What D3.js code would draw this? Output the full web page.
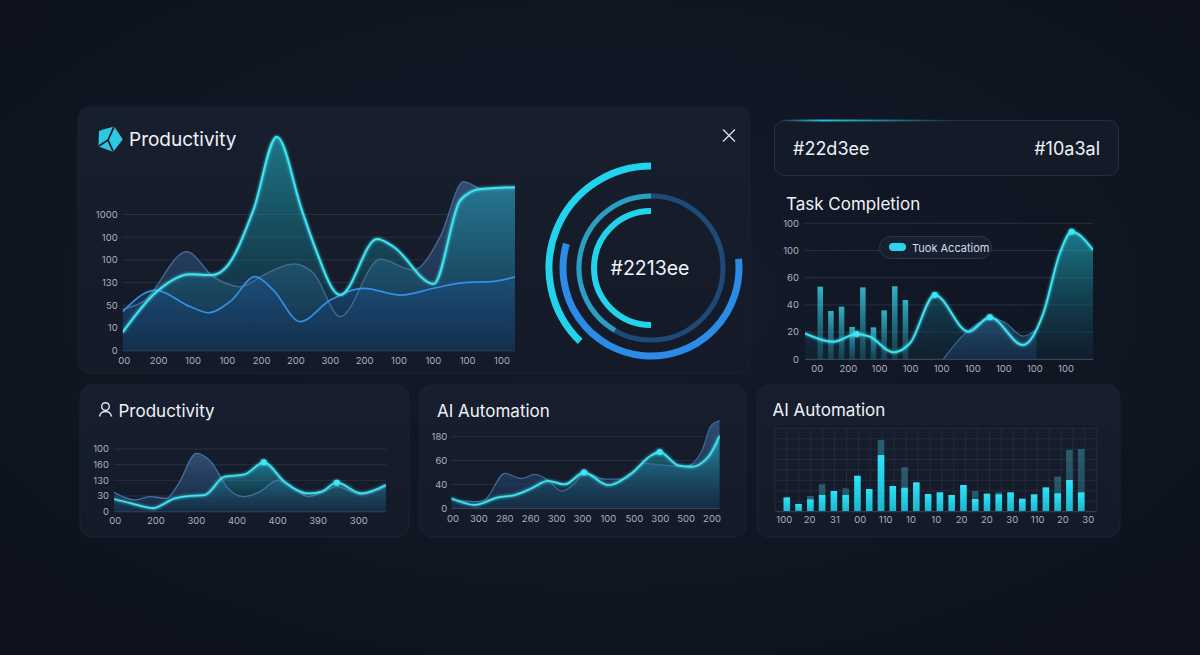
<!DOCTYPE html>
<html><head><meta charset="utf-8">
<script src="https://cdn.jsdelivr.net/npm/d3@7"></script>
<style>
html,body{margin:0;padding:0;background:#0f1420;}
svg{display:block;font-family:Inter,"Noto Sans",sans-serif;}
</style></head><body>
<svg id="c" width="1200" height="655"></svg>
<script>
// ---------- DATA ----------
// Main "Productivity" chart (x = category index, y = tick index units)
const mainXLabels = ["00","200","100","100","200","200","300","200","100","100","100","100"];
const mainYLabels = ["0","10","50","130","100","100","1000"];
const mainCyan = [[-0.05,0.81],[0.94,2.6],[1.92,3.37],[2.55,3.33],[2.98,3.7],[3.76,6.2],[4.44,9.43],[5.17,6.2],[5.51,4.73],[6.29,2.45],[7.36,4.92],[7.84,4.58],[9.01,2.94],[9.79,6.64],[10.37,7.12],[11.39,7.2]];
const mainSlate = [[-0.05,1.82],[0.55,2.16],[1.82,4.36],[2.59,3.26],[3.37,2.82],[4.15,3.41],[4.93,3.82],[5.51,3.41],[6.29,1.5],[7.45,4.03],[8.42,3.55],[9.2,5.02],[9.88,7.44],[10.47,7.11],[11.39,7.2]];
const mainBlue = [[-0.05,1.72],[0.9,2.67],[1.92,1.94],[2.45,1.67],[3.08,2.16],[3.81,3.26],[4.34,2.67],[5.12,1.28],[6.0,2.23],[6.97,2.75],[8.05,2.45],[9.01,2.75],[9.88,3.0],[10.66,3.04],[11.39,3.26]];

// Ring (angles in degrees, 0 = 12 o'clock, clockwise)
const ringArcs = [
  {name:"outer", r:102, start:-136, end:0, color:"#22d3ee", w:7},
  {name:"blue", r:88, start:84, end:286, color:"#2b8be6", w:7},
  {name:"trackMid", r:72, start:0, end:360, color:"#1d4a78", w:5},
  {name:"mid", r:72, start:-150, end:0, color:"#2a9fc0", w:5},
  {name:"inner", r:57, start:180, end:360, color:"#22d3ee", w:6}
];
const ringLabel = "#2213ee";

// Header card
const headerLeft = "#22d3ee";
const headerRight = "#10a3al";

// Task Completion chart
const taskYTicks = [0,20,40,60,80,100];
const taskYLabels = ["0","20","40","60","100","100"];
const taskXLabels = ["00","200","100","100","100","100","100","100","100"];
const taskBars = [53.4,35.5,38.7,23.8,52.9,23.5,36,53.7,43.6];
const taskCurve = [[-0.4,19.1],[0.51,12.9],[1.27,18.6],[1.69,16.6],[2.44,5.1],[2.98,11.8],[3.78,47.3],[4.86,20.3],[5.55,30.9],[6.62,10.5],[7.27,33.8],[7.8,78],[8.18,93.8],[8.87,80.4]];
const taskDotIdx = [2,6,8,12];
const taskSlate = [[4.05,0],[4.8,20],[5.66,30],[6.04,27],[6.62,17],[7.05,22]];
const taskLegend = "Tuok Accatiom";

// Bottom 1: Productivity
const p1XLabels = ["00","200","300","400","400","390","300"];
const p1YLabels = ["0","30","130","160","100"];
const p1Slate = [[-0.03,1.24],[0.48,0.75],[0.85,0.96],[1.26,0.85],[1.54,1.7],[2.0,3.72],[2.36,3.18],[2.78,1.49],[3.15,0.96],[3.56,1.27],[4.01,2.02],[4.4,1.5],[4.75,0.96],[5.07,1.2],[5.46,1.6],[6.06,1.1],[6.67,1.6]];
const p1Cyan = [[-0.03,0.81],[0.39,0.53],[0.93,0.22],[1.46,0.85],[1.79,1.0],[2.2,1.06],[2.69,2.23],[3.19,2.38],[3.66,3.15],[4.17,1.91],[4.75,1.17],[5.07,1.27],[5.46,1.85],[6.06,1.17],[6.67,1.7]];
const p1DotIdx = [8,12];

// Bottom 2: AI Automation (line)
const p2XLabels = ["00","300","280","260","300","300","100","500","300","500","200"];
const p2YLabels = ["0","40","60","180"];
const p2Slate = [[-0.07,0.35],[0.84,0.28],[1.22,0.35],[2.0,1.46],[2.64,1.25],[3.15,1.42],[3.67,1.18],[4.18,0.72],[4.7,1.04],[5.06,1.5],[5.86,1.22],[6.63,1.22],[7.4,1.88],[7.92,1.83],[8.95,1.74],[9.59,2.36],[9.97,3.47],[10.3,3.68]];
const p2Cyan = [[-0.07,0.42],[0.84,0.14],[1.74,0.46],[2.38,0.55],[3.02,0.83],[3.67,1.15],[4.31,1.0],[5.06,1.5],[5.98,0.97],[6.88,1.46],[7.66,2.22],[7.98,2.36],[8.69,1.8],[9.2,1.74],[9.85,2.15],[10.3,3.05]];
const p2DotIdx = [7,11];

// Bottom 3: AI Automation (bars)
const p3Bars = [16.5,8.5,14.1,19.4,24.2,19.4,42.7,26.6,67.7,30.2,28.2,34.7,20.6,22.6,19.4,31.5,14.5,21.0,20.2,22.6,14.9,20.2,28.6,21.4,37.5,22.6];
const p3Faded = [0,0,18.1,32.3,0,27.4,0,0,85.9,0,52.8,0,0,0,0,0,24.2,0,22.6,0,0,0,0,41.5,73.8,75.0];
const p3XLabels = ["100","20","31","00","110","10","10","20","20","30","110","20","30"];

// ---------- DRAW ----------
const svg = d3.select("#c");
const defs = svg.append("defs");
function vGrad(id, stops){
  const g = defs.append("linearGradient").attr("id",id).attr("x1",0).attr("y1",0).attr("x2",0).attr("y2",1);
  stops.forEach(s=>g.append("stop").attr("offset",s[0]).attr("stop-color",s[1]).attr("stop-opacity",s[2]));
}
const bg = defs.append("radialGradient").attr("id","bg").attr("cx","50%").attr("cy","45%").attr("r","75%");
bg.append("stop").attr("offset",0).attr("stop-color","#141b2a");
bg.append("stop").attr("offset",1).attr("stop-color","#0c111b");
vGrad("card",[[0,"#171e2d",1],[1,"#141a27",1]]);
vGrad("mCyan",[[0,"#22c0d4",0.55],[0.55,"#14788c",0.42],[1,"#0f3a55",0.3]]);
vGrad("mSlate",[[0,"#35567e",0.85],[1,"#1b3454",0.6]]);
vGrad("mBlue",[[0,"#1a5288",0.5],[1,"#112f52",0.5]]);
vGrad("tCyan",[[0,"#22c0d4",0.58],[0.6,"#14697e",0.42],[1,"#0f3347",0.28]]);
vGrad("tSlate",[[0,"#2e5a8a",0.6],[1,"#1a3a60",0.5]]);
vGrad("tBar",[[0,"#38cde0",0.85],[1,"#1a8aa0",0.3]]);
vGrad("bBar",[[0,"#2ee3f7",1],[1,"#19b7cf",1]]);
vGrad("bFade",[[0,"#2f7286",0.75],[1,"#2a6275",0.55]]);
const hl = defs.append("linearGradient").attr("id","hl").attr("x1",0).attr("x2",1);
hl.append("stop").attr("offset",0).attr("stop-color","#22d3ee").attr("stop-opacity",0);
hl.append("stop").attr("offset",0.25).attr("stop-color","#22d3ee").attr("stop-opacity",0.9);
hl.append("stop").attr("offset",1).attr("stop-color","#22d3ee").attr("stop-opacity",0);
const glow = defs.append("filter").attr("id","glow").attr("x","-20%").attr("y","-20%").attr("width","140%").attr("height","140%");
glow.append("feGaussianBlur").attr("stdDeviation",1.4).attr("result","b");
const fm = glow.append("feMerge"); fm.append("feMergeNode").attr("in","b"); fm.append("feMergeNode").attr("in","SourceGraphic");

svg.append("rect").attr("width",1200).attr("height",655).attr("fill","url(#bg)");

// cards
[[78,107,672,266],[80,385,329,152],[420,385,326,152],[757,385,363,152]].forEach(c=>{
  svg.append("rect").attr("x",c[0]).attr("y",c[1]).attr("width",c[2]).attr("height",c[3])
    .attr("rx",12).attr("fill","url(#card)").attr("stroke","#1b2333").attr("stroke-width",1);
});

const lbl = "#a9b2c1";
function axisText(g, x, y, t, anchor){
  g.append("text").attr("x",x).attr("y",y).attr("text-anchor",anchor).attr("dy","0.35em")
    .attr("font-size",9.5).attr("fill",lbl).text(t);
}
function title(x,y,t,size){
  svg.append("text").attr("x",x).attr("y",y).attr("font-size",size).attr("font-weight",400)
    .attr("fill","#eef2f7").text(t);
}

// Generic line/area chart drawing
function chart(cfg){
  const g = svg.append("g");
  const x = d3.scaleLinear().domain(cfg.xDomain).range(cfg.xRange);
  const y = d3.scaleLinear().domain(cfg.yDomain).range(cfg.yRange);
  const clipId = cfg.id+"clip";
  defs.append("clipPath").attr("id",clipId).append("rect")
    .attr("x",cfg.plot[0]).attr("y",cfg.top).attr("width",cfg.plot[1]-cfg.plot[0]).attr("height",y(0)-cfg.top+0.5);
  cfg.yTicks.forEach((t,i)=>{
    g.append("line").attr("x1",cfg.plot[0]).attr("x2",cfg.plot[1]).attr("y1",y(t)).attr("y2",y(t))
      .attr("stroke", i===0?"#46526a":"#263044").attr("stroke-width",1);
    axisText(g, cfg.plot[0]-cfg.yPad, y(t), cfg.yLabels[i], "end");
  });
  cfg.xLabels.forEach((t,i)=>axisText(g, x(i), y(0)+cfg.xPad, t, "middle"));
  return {g,x,y,clipId};
}
function areaPath(g,x,y,data,fill,clip){
  g.append("path").datum(data).attr("clip-path","url(#"+clip+")")
    .attr("d", d3.area().x(d=>x(d[0])).y0(y(0)).y1(d=>y(d[1])).curve(d3.curveMonotoneX))
    .attr("fill",fill);
}
function linePath(g,x,y,data,stroke,w,clip,useGlow){
  const p = g.append("path").datum(data).attr("clip-path","url(#"+clip+")")
    .attr("d", d3.line().x(d=>x(d[0])).y(d=>y(d[1])).curve(d3.curveMonotoneX))
    .attr("fill","none").attr("stroke",stroke).attr("stroke-width",w).attr("stroke-linejoin","round");
  if(useGlow) p.attr("filter","url(#glow)");
}
function dots(g,x,y,data,idx){
  idx.forEach(i=>{
    g.append("circle").attr("cx",x(data[i][0])).attr("cy",y(data[i][1])).attr("r",3)
      .attr("fill","#3fe6f5").attr("filter","url(#glow)");
  });
}

// ---- Main chart ----
{
  const yt = d3.range(mainYLabels.length);
  const c = chart({id:"m", xDomain:[0,11], xRange:[124.3,502], yDomain:[0,6], yRange:[350.7,214.5],
    plot:[122.7,515], top:118, yTicks:yt, yLabels:mainYLabels, xLabels:mainXLabels, yPad:5, xPad:9.5});
  areaPath(c.g,c.x,c.y,mainSlate,"url(#mSlate)",c.clipId);
  areaPath(c.g,c.x,c.y,mainCyan,"url(#mCyan)",c.clipId);
  areaPath(c.g,c.x,c.y,mainBlue,"url(#mBlue)",c.clipId);
  linePath(c.g,c.x,c.y,mainSlate,"#46678f",1.4,c.clipId,false);
  linePath(c.g,c.x,c.y,mainBlue,"#358ee3",1.7,c.clipId,false);
  linePath(c.g,c.x,c.y,mainCyan,"#3fe3f2",2,c.clipId,true);
}
// Title + icon
{
  const ig = svg.append("g").attr("transform","translate(109.5,139)");
  const pts = d3.range(5).map(i=>{const a=-Math.PI/2+i*2*Math.PI/5+0.35;return [11.5*Math.cos(a),11.5*Math.sin(a)];});
  ig.append("path").attr("d","M"+pts.map(p=>p.join(",")).join("L")+"Z")
    .attr("fill","#2cc9df").attr("stroke","#2cc9df").attr("stroke-width",3).attr("stroke-linejoin","round");
  const ctr = [-1.5,1];
  [0,2,3].forEach(i=>{
    ig.append("line").attr("x1",ctr[0]).attr("y1",ctr[1]).attr("x2",pts[i][0]*1.1).attr("y2",pts[i][1]*1.1)
      .attr("stroke","#161d2b").attr("stroke-width",1.8);
  });
  title(129,145.5,"Productivity",19);
  svg.append("path").attr("d","M723,129.5L735,141.5M735,129.5L723,141.5").attr("stroke","#d6dde6").attr("stroke-width",1.4);
}

// ---- Ring ----
{
  const rg = svg.append("g").attr("transform","translate(651,268)");
  const rad = d3.scaleLinear().domain([0,360]).range([0,2*Math.PI]);
  ringArcs.forEach(a=>{
    const arc = d3.arc().innerRadius(a.r).outerRadius(a.r).startAngle(rad(a.start)).endAngle(rad(a.end));
    rg.append("path").attr("d",arc()).attr("fill","none").attr("stroke",a.color)
      .attr("stroke-width",a.w).attr("stroke-linecap", a.end-a.start>=360?"butt":"round");
  });
  rg.append("text").attr("x",-1).attr("y",7).attr("text-anchor","middle").attr("font-size",19.5)
    .attr("fill","#f2f5f9").text(ringLabel);
}

// ---- Header card ----
{
  svg.append("rect").attr("x",774.5).attr("y",120.5).attr("width",344).attr("height",55).attr("rx",10)
    .attr("fill","#141b28").attr("stroke","#263043").attr("stroke-width",1);
  svg.append("rect").attr("x",780).attr("y",119.5).attr("width",170).attr("height",2).attr("fill","url(#hl)");
  svg.append("text").attr("x",793).attr("y",155).attr("font-size",18).attr("fill","#eef2f7").text(headerLeft);
  svg.append("text").attr("x",1100).attr("y",155).attr("text-anchor","end").attr("font-size",18).attr("fill","#eef2f7").text(headerRight);
}

// ---- Task Completion ----
{
  title(786,210,"Task Completion",17);
  const c = chart({id:"t", xDomain:[0,8], xRange:[817.3,1066], yDomain:[0,100], yRange:[359.3,223.3],
    plot:[805,1093.3], top:215, yTicks:taskYTicks, yLabels:taskYLabels, xLabels:taskXLabels, yPad:6, xPad:9});
  areaPath(c.g,c.x,c.y,taskCurve,"url(#tCyan)",c.clipId);
  const bx = d3.scaleBand().domain(d3.range(taskBars.length)).range([812.4,913.3]).padding(0.48);
  c.g.selectAll(".tb").data(taskBars).join("rect")
    .attr("x",(d,i)=>bx(i)).attr("width",bx.bandwidth()).attr("y",d=>c.y(d)).attr("height",d=>c.y(0)-c.y(d))
    .attr("fill","url(#tBar)");
  areaPath(c.g,c.x,c.y,taskSlate,"url(#tSlate)",c.clipId);
  linePath(c.g,c.x,c.y,taskSlate,"#3e6a98",1.2,c.clipId,false);
  linePath(c.g,c.x,c.y,taskCurve,"#3fe3f2",1.9,c.clipId,true);
  dots(c.g,c.x,c.y,taskCurve,taskDotIdx);
  svg.append("rect").attr("x",879.5).attr("y",236.5).attr("width",112).attr("height",22).attr("rx",11)
    .attr("fill","#172030").attr("stroke","#2c374a");
  svg.append("rect").attr("x",889).attr("y",243).attr("width",17).attr("height",8).attr("rx",4).attr("fill","#2bd6ea");
  svg.append("text").attr("x",912).attr("y",251.5).attr("font-size",11).attr("fill","#d5dce5").text(taskLegend);
}

// ---- Bottom 1 ----
{
  const ig = svg.append("g").attr("stroke","#e3e8ef").attr("stroke-width",1.4).attr("fill","none");
  ig.append("circle").attr("cx",105.5).attr("cy",406.5).attr("r",3.8);
  ig.append("path").attr("d","M99.5,416.5Q100.5,411.5 105.5,411.5Q110.5,411.5 111.5,416.5");
  title(118.5,417,"Productivity",17);
  const c = chart({id:"p1", xDomain:[0,6], xRange:[115.3,358.7], yDomain:[0,4], yRange:[511.7,449],
    plot:[114,386.3], top:440, yTicks:d3.range(p1YLabels.length), yLabels:p1YLabels, xLabels:p1XLabels, yPad:5, xPad:9});
  areaPath(c.g,c.x,c.y,p1Slate,"url(#mSlate)",c.clipId);
  areaPath(c.g,c.x,c.y,p1Cyan,"url(#tCyan)",c.clipId);
  linePath(c.g,c.x,c.y,p1Slate,"#4272a6",1.3,c.clipId,false);
  linePath(c.g,c.x,c.y,p1Cyan,"#3fe3f2",1.8,c.clipId,true);
  dots(c.g,c.x,c.y,p1Cyan,p1DotIdx);
}

// ---- Bottom 2 ----
{
  title(437,416.5,"AI Automation",17);
  const c = chart({id:"p2", xDomain:[0,10], xRange:[453,712], yDomain:[0,3], yRange:[508.3,436.7],
    plot:[451.3,719.7], top:415, yTicks:d3.range(p2YLabels.length), yLabels:p2YLabels, xLabels:p2XLabels, yPad:4, xPad:10});
  areaPath(c.g,c.x,c.y,p2Slate,"url(#mSlate)",c.clipId);
  areaPath(c.g,c.x,c.y,p2Cyan,"url(#tCyan)",c.clipId);
  linePath(c.g,c.x,c.y,p2Slate,"#3f6b9c",1.2,c.clipId,false);
  linePath(c.g,c.x,c.y,p2Cyan,"#3fe3f2",1.8,c.clipId,true);
  dots(c.g,c.x,c.y,p2Cyan,p2DotIdx);
}

// ---- Bottom 3 ----
{
  title(772.5,416,"AI Automation",17);
  const g = svg.append("g");
  const bx = d3.scaleBand().domain(d3.range(p3Bars.length)).range([778.3,1089.7]).padding(0.44);
  const y = d3.scaleLinear().domain([0,100]).range([511,428.3]);
  const lx = d3.scalePoint().domain(d3.range(p3XLabels.length)).range([784.3,1088.3]);
  d3.range(0,9).forEach(r=>{
    const yy = 428.3 + r*(511.7-428.3)/8;
    g.append("line").attr("x1",775).attr("x2",1096.7).attr("y1",yy).attr("y2",yy).attr("stroke",r===8?"#3a465c":"#222c3e");
  });
  d3.range(p3Bars.length+2).forEach(i=>{
    const xx = 775 + i*(1096.7-775)/(p3Bars.length+1);
    g.append("line").attr("x1",xx).attr("x2",xx).attr("y1",428.3).attr("y2",511.7).attr("stroke","#222c3e");
  });
  g.selectAll(".bf").data(p3Faded).join("rect")
    .attr("x",(d,i)=>bx(i)).attr("width",bx.bandwidth()).attr("y",d=>y(d)).attr("height",d=>y(0)-y(d))
    .attr("fill","url(#bFade)");
  g.selectAll(".bb").data(p3Bars).join("rect")
    .attr("x",(d,i)=>bx(i)).attr("width",bx.bandwidth()).attr("y",d=>y(d)).attr("height",d=>y(0)-y(d))
    .attr("fill","url(#bBar)");
  p3XLabels.forEach((t,i)=>axisText(g, lx(i), 520, t, "middle"));
}
</script>
</body></html>
